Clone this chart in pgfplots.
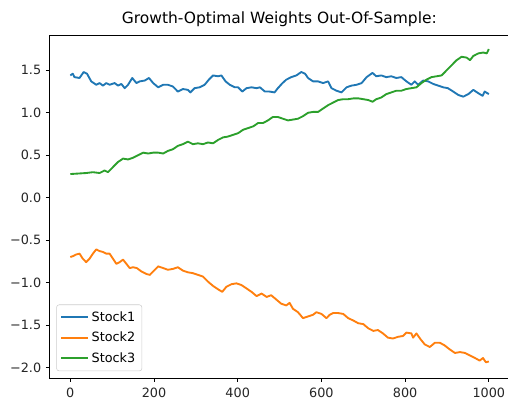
\documentclass[border=0pt]{standalone}
\usepackage{pgfplots}
\pgfplotsset{compat=1.18}
\usepackage{fontspec}
\setmainfont{DejaVu Sans}
\definecolor{c0}{HTML}{1F77B4}
\definecolor{c1}{HTML}{FF7F0E}
\definecolor{c2}{HTML}{2CA02C}
\begin{document}
\begin{tikzpicture}
\begin{axis}[
  name=ax,
  scale only axis,
  width=344.6pt, height=257pt,
  xmin=-49.95, xmax=1048.95,
  ymin=-2.126, ymax=1.916,
  xtick={0,200,400,600,800,1000},
  xticklabels={0,200,400,600,800,1000},
  ytick={-2,-1.5,-1,-0.5,0,0.5,1,1.5},
  yticklabels={−2.0,−1.5,−1.0,−0.5,0.0,0.5,1.0,1.5},
  tick align=outside,
  major tick length=2.6pt,
  tick style={black, line width=0.6pt},
  axis line style={line width=0.6pt},
  xtick pos=bottom, ytick pos=left,
  ticklabel style={font=\fontsize{9.6}{11}\selectfont, text=black!85},
  xticklabel style={yshift=-1.5pt},
  title={Growth-Optimal Weights Out-Of-Sample:},
  title style={font=\fontsize{11.6}{13}\selectfont, at={(0.5,1)}, anchor=base, yshift=3pt},
  legend style={at={(0.015,0.02)}, anchor=south west, draw=black!20, rounded corners=2pt,
    font=\fontsize{9.6}{11}\selectfont, row sep=2.6pt, inner sep=3pt},
  legend cell align=left,
  legend image code/.code={\draw[#1] plot coordinates {(0cm,0cm) (0.35cm,0cm) (0.7cm,0cm)};},
  every axis plot/.append style={line width=1.4pt, line join=round},
]
\addplot[c0] coordinates {
(0,1.44)(6,1.46)(10,1.42)(22,1.41)(32,1.48)(40,1.46)(50,1.37)(62,1.33)(70,1.35)(78,1.32)
(86,1.35)(94,1.33)(106,1.35)(114,1.32)(122,1.34)(130,1.29)(138,1.33)(148,1.41)(158,1.35)(166,1.37)
(178,1.38)(188,1.41)(198,1.35)(210,1.30)(222,1.33)(233,1.33)(245,1.31)(257,1.25)(269,1.28)(281,1.27)
(287,1.24)(297,1.29)(309,1.30)(321,1.33)(331,1.39)(341,1.44)(353,1.43)(361,1.44)(371,1.37)(381,1.33)
(393,1.30)(401,1.30)(411,1.25)(421,1.29)(433,1.30)(445,1.29)(453,1.30)(465,1.25)(476,1.25)(488,1.24)
(496,1.29)(507,1.35)(516,1.39)(528,1.42)(540,1.44)(552,1.48)(561,1.46)(568,1.41)(580,1.37)(592,1.37)
(604,1.35)(616,1.37)(624,1.29)(636,1.26)(648,1.24)(660,1.30)(672,1.32)(684,1.33)(696,1.35)(708,1.42)
(722,1.47)(731,1.43)(743,1.44)(755,1.42)(767,1.43)(779,1.41)(791,1.42)(803,1.37)(815,1.33)(823,1.37)
(831,1.33)(843,1.38)(855,1.37)(867,1.34)(879,1.32)(891,1.30)(902,1.29)(915,1.25)(927,1.21)(939,1.19)
(951,1.22)(963,1.27)(975,1.23)(985,1.20)(990,1.25)(1000,1.22)
};
\addlegendentry{Stock1}
\addplot[c1] coordinates {
(0,-0.70)(6,-0.69)(14,-0.67)(22,-0.66)(30,-0.72)(38,-0.76)(46,-0.72)(54,-0.66)(62,-0.61)(70,-0.63)
(78,-0.64)(86,-0.66)(94,-0.66)(102,-0.72)(110,-0.78)(118,-0.76)(126,-0.73)(134,-0.78)(142,-0.83)(150,-0.82)
(159,-0.83)(170,-0.87)(182,-0.90)(190,-0.91)(198,-0.87)(210,-0.81)(222,-0.83)(233,-0.85)(245,-0.84)(257,-0.82)
(269,-0.86)(281,-0.88)(293,-0.89)(305,-0.91)(317,-0.93)(329,-0.99)(341,-1.04)(353,-1.08)(363,-1.11)(373,-1.05)
(385,-1.02)(397,-1.01)(409,-1.03)(421,-1.07)(433,-1.11)(445,-1.16)(457,-1.13)(469,-1.17)(480,-1.15)(492,-1.20)
(504,-1.25)(516,-1.27)(524,-1.24)(532,-1.31)(544,-1.35)(556,-1.42)(568,-1.40)(580,-1.38)(588,-1.35)(600,-1.37)
(612,-1.42)(620,-1.38)(628,-1.36)(640,-1.36)(652,-1.37)(664,-1.42)(677,-1.45)(688,-1.48)(700,-1.49)(712,-1.54)
(724,-1.57)(735,-1.56)(747,-1.60)(759,-1.65)(771,-1.66)(783,-1.64)(795,-1.63)(803,-1.59)(815,-1.60)(819,-1.65)
(827,-1.60)(837,-1.67)(847,-1.73)(859,-1.76)(871,-1.71)(883,-1.71)(894,-1.74)(907,-1.79)(919,-1.83)(931,-1.82)
(943,-1.83)(955,-1.86)(967,-1.89)(978,-1.92)(986,-1.89)(993,-1.94)(1000,-1.93)
};
\addlegendentry{Stock2}
\addplot[c2] coordinates {
(0,0.278)(22,0.285)(38,0.29)(54,0.30)(70,0.29)(82,0.32)(90,0.30)(102,0.36)(114,0.42)(126,0.46)
(138,0.45)(150,0.47)(162,0.50)(174,0.53)(186,0.52)(198,0.53)(210,0.53)(222,0.52)(233,0.55)(245,0.57)
(257,0.61)(269,0.63)(281,0.66)(293,0.63)(305,0.64)(317,0.63)(329,0.65)(341,0.64)(353,0.68)(365,0.71)
(377,0.72)(389,0.74)(401,0.76)(413,0.80)(425,0.82)(437,0.84)(449,0.88)(461,0.88)(472,0.91)(484,0.95)
(496,0.95)(508,0.93)(520,0.91)(532,0.92)(544,0.93)(556,0.96)(568,1.00)(580,1.01)(592,1.01)(604,1.05)
(616,1.09)(628,1.12)(640,1.15)(652,1.16)(664,1.16)(677,1.17)(688,1.17)(700,1.16)(712,1.15)(722,1.13)
(731,1.16)(743,1.18)(755,1.22)(767,1.24)(779,1.26)(791,1.26)(803,1.28)(815,1.29)(827,1.30)(839,1.35)
(851,1.39)(863,1.42)(875,1.43)(887,1.44)(899,1.50)(911,1.56)(923,1.62)(935,1.66)(947,1.65)(955,1.62)
(963,1.67)(975,1.70)(987,1.71)(995,1.70)(1000,1.75)
};
\addlegendentry{Stock3}
\end{axis}
\pgfresetboundingbox
\path[use as bounding box] ([xshift=-37pt,yshift=-16.7pt]ax.south west) rectangle ([xshift=-1pt,yshift=26.25pt]ax.north east);
\end{tikzpicture}
\end{document}
